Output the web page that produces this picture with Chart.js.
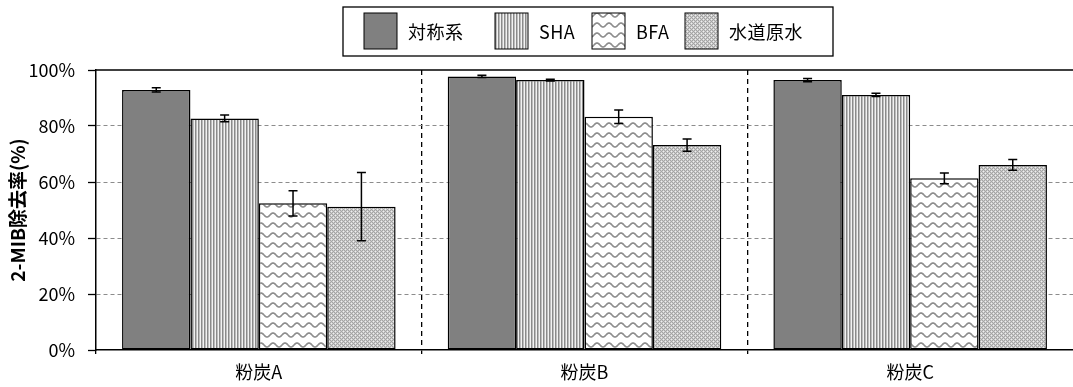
<!DOCTYPE html>
<html>
<head>
<meta charset="utf-8">
<script src="https://cdn.jsdelivr.net/npm/chart.js@4/dist/chart.umd.min.js"></script>
<style>
  html, body { margin: 0; padding: 0; background: #fff; }
  #wrap { width: 1073px; height: 387px; }
</style>
</head>
<body>
<div id="wrap"><canvas id="c" width="1073" height="387"></canvas></div>
<script>
// Categories and series
const categories = ['粉炭A', '粉炭B', '粉炭C'];
const seriesNames = ['対称系', 'SHA', 'BFA', '水道原水'];

// Removal rate (%) and standard deviation per series
const controlValues = [92.9, 97.7, 96.4];
const controlErrors = [0.8, 0.4, 0.6];
const shaValues = [82.7, 96.4, 91.1];
const shaErrors = [1.2, 0.3, 0.6];
const bfaValues = [52.4, 83.3, 61.3];
const bfaErrors = [4.5, 2.4, 1.9];
const tapValues = [51.2, 73.2, 66.1];
const tapErrors = [12.2, 2.2, 1.9];

const yTicks = [0, 20, 40, 60, 80, 100];

const FONT = "'Noto Sans CJK JP', 'Noto Sans', sans-serif";

// ---- fill patterns ----
function makeTile(w, h, draw) {
  const t = document.createElement('canvas');
  t.width = w; t.height = h;
  const g = t.getContext('2d');
  draw(g, w, h);
  return document.createElement('canvas').getContext('2d').createPattern(t, 'repeat');
}
const solidFill = '#808080';
const stripeFill = makeTile(3, 4, (g) => {
  g.fillStyle = '#f2f2f2'; g.fillRect(0, 0, 3, 4);
  g.fillStyle = '#8a8a8a'; g.fillRect(0, 0, 1, 4);
  g.fillStyle = '#bdbdbd'; g.fillRect(1, 0, 1, 4);
});
const waveFill = makeTile(12, 10, (g, w, h) => {
  g.fillStyle = '#ffffff'; g.fillRect(0, 0, w, h);
  g.strokeStyle = '#8e8e8e'; g.lineWidth = 1.7;
  for (const off of [-h, 0, h]) {
    g.beginPath();
    for (let x = -1; x <= w + 1; x += 0.5) {
      const y = off + 5 + 2 * Math.sin((x / w) * Math.PI * 2);
      if (x === -1) g.moveTo(x, y); else g.lineTo(x, y);
    }
    g.stroke();
  }
});
const dotFill = makeTile(4, 4, (g) => {
  g.fillStyle = '#a4a4a4'; g.fillRect(0, 0, 4, 4);
  g.fillStyle = '#cccccc';
  g.fillRect(1, 0, 1, 1); g.fillRect(3, 0, 1, 1);
  g.fillRect(0, 1, 1, 1); g.fillRect(2, 1, 1, 1);
  g.fillRect(1, 2, 1, 1); g.fillRect(3, 2, 1, 1);
  g.fillRect(0, 3, 1, 1); g.fillRect(2, 3, 1, 1);
  g.fillStyle = '#eeeeee';
  g.fillRect(1, 1, 1, 1); g.fillRect(3, 3, 1, 1);
});

const fills = [solidFill, stripeFill, waveFill, dotFill];
const valueSets = [controlValues, shaValues, bfaValues, tapValues];
const errorSets = [controlErrors, shaErrors, bfaErrors, tapErrors];

const datasets = seriesNames.map((name, i) => ({
  label: name,
  data: valueSets[i],
  errors: errorSets[i],
  backgroundColor: fills[i],
  borderColor: '#000',
  borderWidth: 1.5,
  borderSkipped: false,
  categoryPercentage: 0.84,
  barPercentage: 1.0
}));

// Error bars drawn from each bar's value and the y scale
const errorBars = {
  id: 'errorBars',
  afterDatasetsDraw(chart) {
    const { ctx } = chart;
    const y = chart.scales.y;
    ctx.save();
    ctx.strokeStyle = '#000';
    ctx.lineWidth = 1.5;
    chart.data.datasets.forEach((ds, di) => {
      const meta = chart.getDatasetMeta(di);
      meta.data.forEach((bar, i) => {
        const v = ds.data[i], e = ds.errors[i];
        const yTop = y.getPixelForValue(v + e);
        const yBot = y.getPixelForValue(v - e);
        const x = bar.x, cap = 4.5;
        ctx.beginPath();
        ctx.moveTo(x, yTop); ctx.lineTo(x, yBot);
        ctx.moveTo(x - cap, yTop); ctx.lineTo(x + cap, yTop);
        ctx.moveTo(x - cap, yBot); ctx.lineTo(x + cap, yBot);
        ctx.stroke();
      });
    });
    ctx.restore();
  }
};

// Solid top edge of the plot frame
const topFrame = {
  id: 'topFrame',
  beforeDatasetsDraw(chart) {
    const { ctx, chartArea: a } = chart;
    ctx.save();
    ctx.strokeStyle = '#000';
    ctx.lineWidth = 1.5;
    ctx.beginPath();
    ctx.moveTo(a.left, a.top); ctx.lineTo(a.right, a.top);
    ctx.stroke();
    ctx.restore();
  }
};

// Boxed legend above the plot
const boxLegend = {
  id: 'boxLegend',
  afterDraw(chart, args, opts) {
    const { ctx } = chart;
    ctx.save();
    ctx.strokeStyle = '#000';
    ctx.lineWidth = 1.3;
    ctx.fillStyle = '#fff';
    ctx.fillRect(opts.left, opts.top, opts.width, opts.height);
    ctx.strokeRect(opts.left, opts.top, opts.width, opts.height);
    ctx.font = opts.font;
    ctx.textBaseline = 'middle';
    ctx.letterSpacing = opts.letterSpacing;
    const cy = opts.top + opts.height / 2;
    chart.data.datasets.forEach((ds, i) => {
      const x = opts.itemX[i];
      ctx.fillStyle = ds.backgroundColor;
      ctx.fillRect(x, cy - opts.box / 2 - 0.5, opts.boxW, opts.box);
      ctx.lineWidth = 1;
      ctx.strokeRect(x, cy - opts.box / 2 - 0.5, opts.boxW, opts.box);
      ctx.fillStyle = '#000';
      ctx.fillText(ds.label, x + opts.boxW + opts.gap, cy + 1);
    });
    ctx.restore();
  }
};

new Chart(document.getElementById('c'), {
  type: 'bar',
  data: { labels: categories, datasets },
  plugins: [errorBars, topFrame, boxLegend],
  options: {
    responsive: false,
    animation: false,
    devicePixelRatio: 1,
    layout: { padding: { top: 70, left: 0, right: 0, bottom: 0 } },
    plugins: {
      legend: { display: false },
      tooltip: { enabled: false },
      boxLegend: {
        left: 343, top: 7, width: 490, height: 49,
        itemX: [364, 495, 592, 685],
        boxW: 33, box: 36, gap: 11,
        font: "18px " + FONT, letterSpacing: '0.5px'
      }
    },
    scales: {
      x: {
        offset: true,
        afterFit(s) { s.height = 37; },
        grid: {
          offset: true,
          drawOnChartArea: true,
          color: (c) => (c.index === 1 || c.index === 2) ? '#000' : 'rgba(0,0,0,0)',
          tickColor: (c) => (c.index <= 2) ? '#000' : 'rgba(0,0,0,0)',
          lineWidth: 1.3,
          tickLength: 4,
          tickWidth: 1.3
        },
        border: { display: true, color: '#000', width: 1.5, dash: [5, 4] },
        ticks: { color: '#000', font: { family: FONT, size: 18 }, padding: 7 }
      },
      y: {
        min: 0, max: 100,
        afterFit(s) { s.width = 96; },
        afterBuildTicks(s) { s.ticks = yTicks.map(v => ({ value: v })); },
        grid: {
          color: (c) => (c.tick && c.tick.value > 0 && c.tick.value < 100) ? '#8c8c8c' : 'rgba(0,0,0,0)',
          tickColor: '#000',
          lineWidth: 1,
          tickLength: 8,
          tickWidth: 1.3
        },
        border: { display: true, color: '#000', width: 1.5, dash: [4, 3] },
        ticks: {
          color: '#000',
          font: { family: FONT, size: 18 },
          padding: 13,
          callback: (v) => v + '%'
        },
        title: {
          display: true,
          text: '2-MIB除去率(%)',
          color: '#000',
          font: { family: FONT, size: 19, weight: 'bold' },
          padding: { top: 6, bottom: 0 }
        }
      }
    }
  }
});
</script>
</body>
</html>
